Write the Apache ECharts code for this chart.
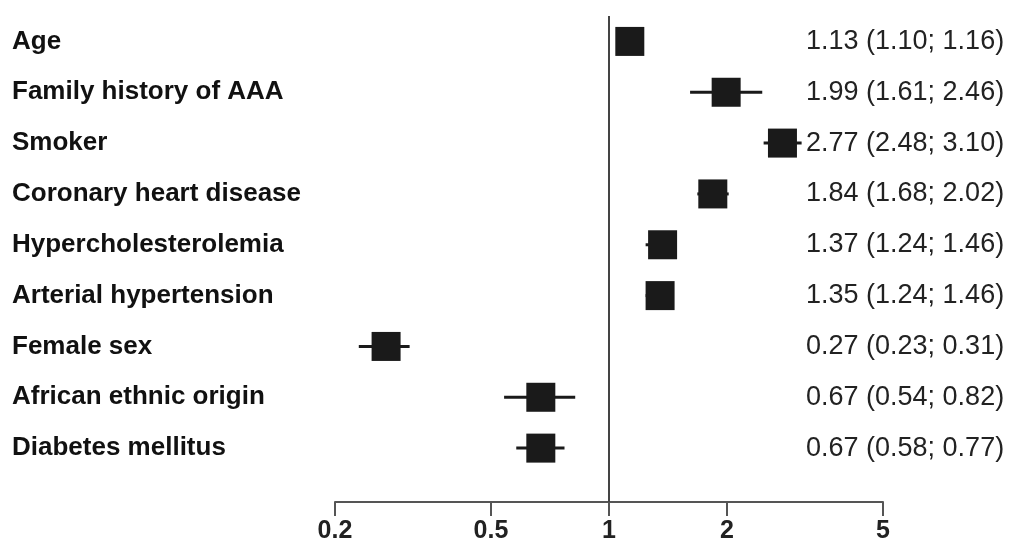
<!DOCTYPE html>
<html>
<head>
<meta charset="utf-8">
<script src="https://cdn.jsdelivr.net/npm/echarts@6/dist/echarts.min.js"></script>
<style>
  html, body { margin: 0; padding: 0; background: #fff; }
  #chart { width: 1017px; height: 544px; }
</style>
</head>
<body>
<div id="chart"></div>
<script>
// forest plot data (odds ratios with 95% CI)
var factors = ["Age", "Family history of AAA", "Smoker", "Coronary heart disease",
  "Hypercholesterolemia", "Arterial hypertension", "Female sex",
  "African ethnic origin", "Diabetes mellitus"];
var oddsRatio = [1.13, 1.99, 2.77, 1.84, 1.37, 1.35, 0.27, 0.67, 0.67];
var ciLow = [1.10, 1.61, 2.48, 1.68, 1.24, 1.24, 0.23, 0.54, 0.58];
var ciHigh = [1.16, 2.46, 3.10, 2.02, 1.46, 1.46, 0.31, 0.82, 0.77];
var xTicks = [0.2, 0.5, 1, 2, 5];

var narrow = "'Liberation Sans Narrow', 'Arial Narrow', 'Liberation Sans', sans-serif";
var log10 = function (v) { return Math.log10(v); };
var fmt = function (v) { return v.toFixed(2); };

var rows = factors.map(function (f, i) { return i; });

var chart = echarts.init(document.getElementById("chart"));

var option = {
  backgroundColor: "#fff",
  animation: false,
  grid: { left: 335, right: 134, top: 16, bottom: 41 },
  xAxis: {
    type: "value",
    min: log10(0.2),
    max: log10(5),
    splitLine: { show: false },
    axisLine: { onZero: false, lineStyle: { color: "#555", width: 2 } },
    axisTick: { length: 14, lineStyle: { color: "#555", width: 2 }, customValues: xTicks.map(log10) },
    axisLabel: {
      customValues: xTicks.map(log10),
      margin: 17,
      fontFamily: narrow,
      fontWeight: "bold",
      fontSize: 25,
      color: "#222",
      formatter: function (v) {
        return String(Math.round(Math.pow(10, v) * 10) / 10);
      }
    }
  },
  yAxis: [{
    type: "value",
    inverse: true,
    min: -0.5,
    max: 9.06,
    splitLine: { show: false },
    axisLine: { show: false },
    axisTick: { show: false },
    axisLabel: {
      customValues: rows,
      align: "left",
      margin: 323,
      padding: [4, 0, 0, 0],
      fontFamily: narrow,
      fontWeight: "bold",
      fontSize: 26,
      color: "#111",
      formatter: function (v) { return factors[v]; }
    }
  }, {
    type: "value",
    inverse: true,
    position: "right",
    min: -0.5,
    max: 9.06,
    splitLine: { show: false },
    axisLine: { show: false },
    axisTick: { show: false },
    axisLabel: {
      customValues: rows,
      align: "left",
      margin: -77,
      padding: [4, 0, 0, 0],
      fontFamily: narrow,
      fontSize: 27,
      color: "#222",
      formatter: function (v) {
        return fmt(oddsRatio[v]) + " (" + fmt(ciLow[v]) + "; " + fmt(ciHigh[v]) + ")";
      }
    }
  }],
  series: [{
    type: "custom",
    silent: true,
    data: rows.map(function (i) { return [log10(ciLow[i]), log10(ciHigh[i]), i]; }),
    renderItem: function (params, api) {
      var a = api.coord([api.value(0), api.value(2)]);
      var b = api.coord([api.value(1), api.value(2)]);
      return {
        type: "line",
        shape: { x1: a[0], y1: a[1], x2: b[0], y2: b[1] },
        style: { stroke: "#1a1a1a", lineWidth: 3 }
      };
    }
  }, {
    type: "scatter",
    symbol: "rect",
    symbolSize: 29,
    silent: true,
    itemStyle: { color: "#1a1a1a", opacity: 1 },
    data: rows.map(function (i) { return [log10(oddsRatio[i]), i]; }),
    markLine: {
      silent: true,
      symbol: ["none", "none"],
      label: { show: false },
      lineStyle: { color: "#444", width: 2, type: "solid" },
      data: [{ xAxis: 0 }]
    }
  }]
};

chart.setOption(option);
window.onresize = function () { chart.resize(); };
</script>
</body>
</html>
